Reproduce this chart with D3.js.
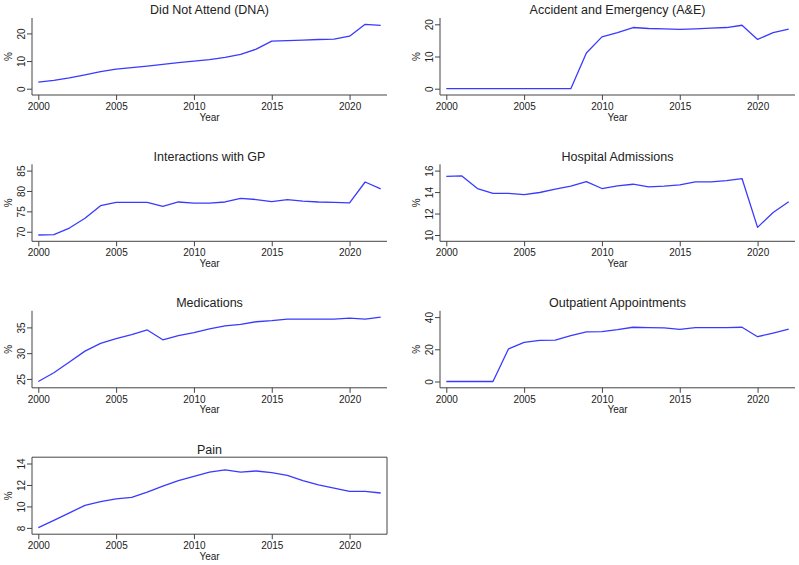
<!DOCTYPE html>
<html>
<head>
<meta charset="utf-8">
<script src="https://cdn.jsdelivr.net/npm/d3@7"></script>
<style>
  html, body { margin: 0; padding: 0; background: #fff; }
  svg { display: block; font-family: "Liberation Sans", Arial, sans-serif; }
</style>
</head>
<body>
<svg id="chart" width="799" height="565"></svg>
<script>
const years = d3.range(2000, 2023);
const xTicks = [2000, 2005, 2010, 2015, 2020];

const titles = [
  "Did Not Attend (DNA)",
  "Accident and Emergency (A&E)",
  "Interactions with GP",
  "Hospital Admissions",
  "Medications",
  "Outpatient Appointments",
  "Pain"
];

const dna = [2.4, 3.0, 3.9, 5.0, 6.2, 7.1, 7.6, 8.2, 8.8, 9.4, 10.0, 10.5, 11.3, 12.4, 14.3, 17.2, 17.4, 17.6, 17.8, 17.9, 19.0, 23.3, 22.9];
const ae = [0, 0, 0, 0, 0, 0, 0, 0, 0, 11.1, 16.1, 17.4, 19.0, 18.7, 18.6, 18.4, 18.6, 18.8, 19.0, 19.7, 15.3, 17.4, 18.5];
const gp = [69.2, 69.3, 70.9, 73.3, 76.4, 77.2, 77.2, 77.2, 76.2, 77.3, 77.0, 77.0, 77.3, 78.2, 77.9, 77.4, 77.9, 77.5, 77.3, 77.2, 77.1, 82.2, 80.5];
const hosp = [15.47, 15.5, 14.33, 13.87, 13.87, 13.77, 13.96, 14.27, 14.55, 14.98, 14.33, 14.58, 14.73, 14.49, 14.55, 14.67, 14.95, 14.95, 15.07, 15.26, 10.71, 12.1, 13.09];
const meds = [24.5, 26.2, 28.3, 30.4, 31.9, 32.8, 33.6, 34.5, 32.6, 33.4, 34.0, 34.7, 35.3, 35.6, 36.1, 36.3, 36.6, 36.6, 36.6, 36.6, 36.8, 36.6, 37.0];
const outp = [0, 0, 0, 0, 20.3, 24.3, 25.5, 25.7, 28.5, 30.8, 31.0, 32.2, 33.7, 33.5, 33.3, 32.4, 33.5, 33.5, 33.5, 33.7, 27.8, 30.1, 32.6];
const pain = [8.03, 8.7, 9.4, 10.1, 10.44, 10.7, 10.85, 11.34, 11.9, 12.4, 12.8, 13.2, 13.4, 13.2, 13.3, 13.15, 12.9, 12.4, 12.0, 11.7, 11.4, 11.4, 11.25];

const yTicksList = [
  [0, 10, 20],
  [0, 10, 20],
  [70, 75, 80, 85],
  [10, 12, 14, 16],
  [25, 30, 35],
  [0, 20, 40],
  [8, 10, 12, 14]
];
const seriesList = [dna, ae, gp, hosp, meds, outp, pain];

const svg = d3.select("#chart");
const axisColor = "#444";
const lineColor = "#3a3aff";

const colLeft = [32, 440];
const plotW = 355;
const rowTop = [18, 164.3, 310.8, 457.2];
const plotH = 77;
const pad = 6.3;

seriesList.forEach((vals, i) => {
  const col = i % 2, row = Math.floor(i / 2);
  const L = colLeft[col], R = L + plotW;
  const T = rowTop[row], B = T + plotH;
  const ticks = yTicksList[i];
  const ext = d3.extent(vals.concat(ticks));

  const x = d3.scaleLinear().domain([2000, 2022]).range([L + pad, R - pad]);
  const y = d3.scaleLinear().domain(ext).range([B - pad, T + pad]);

  const g = svg.append("g");

  // title
  g.append("text")
    .attr("x", (L + R) / 2).attr("y", T - 3.6)
    .attr("text-anchor", "middle")
    .attr("font-size", "12.5px").attr("fill", "#222")
    .text(titles[i]);

  // line
  g.append("path")
    .datum(years.map((yr, k) => [yr, vals[k]]))
    .attr("fill", "none")
    .attr("stroke", lineColor)
    .attr("stroke-width", 1.3)
    .attr("stroke-linejoin", "round")
    .attr("d", d3.line().x(d => x(d[0])).y(d => y(d[1])));

  // box for Pain panel
  if (i === 6) {
    g.append("path")
      .attr("d", `M${L},${T}H${R}V${B}`)
      .attr("fill", "none").attr("stroke", axisColor).attr("stroke-width", 1);
  }

  // x axis
  const xAxis = d3.axisBottom(x).tickValues(xTicks).tickSize(5).tickPadding(3).tickFormat(d3.format("d"));
  const gx = g.append("g").attr("transform", `translate(0,${B})`).call(xAxis);
  gx.select(".domain").attr("d", `M${L},0H${R}`).attr("stroke", axisColor);
  gx.selectAll(".tick line").attr("stroke", axisColor);
  gx.selectAll(".tick text").attr("font-size", "10px").attr("fill", "#222")
    .attr("font-family", '"Liberation Sans", Arial, sans-serif');

  // y axis
  const yAxis = d3.axisLeft(y).tickValues(ticks).tickSize(5).tickFormat(d3.format("d"));
  const gy = g.append("g").attr("transform", `translate(${L},0)`).call(yAxis);
  gy.select(".domain").attr("d", `M0,${T}V${B}`).attr("stroke", axisColor);
  gy.selectAll(".tick line").attr("stroke", axisColor);
  gy.selectAll(".tick text")
    .attr("font-size", "10px").attr("fill", "#222")
    .attr("font-family", '"Liberation Sans", Arial, sans-serif')
    .attr("x", null).attr("dy", null)
    .attr("text-anchor", "middle")
    .attr("transform", "translate(-7.5,0) rotate(-90)");

  // axis titles
  g.append("text")
    .attr("x", (L + R) / 2).attr("y", B + 25.5)
    .attr("text-anchor", "middle")
    .attr("font-size", "10px").attr("fill", "#222")
    .text("Year");
  g.append("text")
    .attr("transform", `translate(${L - 20},${(T + B) / 2}) rotate(-90)`)
    .attr("text-anchor", "middle")
    .attr("font-size", "10px").attr("fill", "#222")
    .text("%");
});
</script>
</body>
</html>
